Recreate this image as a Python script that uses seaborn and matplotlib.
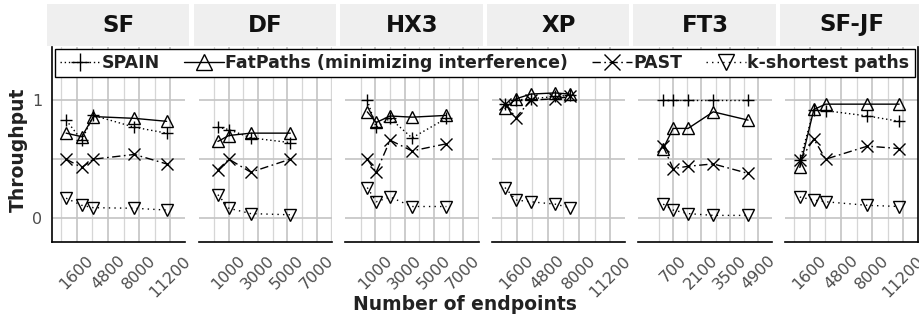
import numpy as np
import pandas as pd
import matplotlib
matplotlib.use("Agg")
import matplotlib.pyplot as plt
import seaborn as sns
from matplotlib.lines import Line2D
from matplotlib.patches import Rectangle
from matplotlib.ticker import FixedLocator

# ---------------- data ----------------
topologies = ["SF", "DF", "HX3", "XP", "FT3", "SF-JF"]
series = ["SPAIN", "FatPaths (minimizing interference)", "PAST", "k-shortest paths"]

sf_x = [500, 2100, 3300, 7500, 10800]
sf_spain = [0.83, 0.66, 0.87, 0.77, 0.72]
sf_fatpaths = [0.72, 0.69, 0.86, 0.845, 0.82]
sf_past = [0.50, 0.43, 0.50, 0.54, 0.46]
sf_ksp = [0.17, 0.11, 0.09, 0.085, 0.07]

df_x = [250, 1000, 2500, 5200]
df_spain = [0.77, 0.75, 0.68, 0.64]
df_fatpaths = [0.65, 0.70, 0.72, 0.72]
df_past = [0.41, 0.50, 0.39, 0.50]
df_ksp = [0.20, 0.085, 0.04, 0.03]

hx3_x = [440, 1050, 2000, 3500, 5850]
hx3_spain = [1.00, 0.77, 0.845, 0.68, 0.845]
hx3_fatpaths = [0.90, 0.81, 0.865, 0.855, 0.87]
hx3_past = [0.50, 0.39, 0.66, 0.57, 0.63]
hx3_ksp = [0.26, 0.14, 0.18, 0.10, 0.10]

xp_x = [400, 1530, 3040, 5540, 7080]
xp_spain = [0.97, 1.00, 1.01, 1.03, 1.04]
xp_fatpaths = [0.93, 1.01, 1.05, 1.06, 1.05]
xp_past = [0.97, 0.85, 1.00, 1.01, 1.03]
xp_ksp = [0.26, 0.155, 0.14, 0.12, 0.09]

ft3_x = [210, 700, 1440, 2680, 4400]
ft3_spain = [1.00, 1.00, 1.00, 1.00, 1.00]
ft3_fatpaths = [0.59, 0.76, 0.76, 0.90, 0.83]
ft3_past = [0.61, 0.42, 0.44, 0.46, 0.38]
ft3_ksp = [0.12, 0.07, 0.04, 0.025, 0.025]

sfjf_x = [570, 2010, 3220, 7500, 10760]
sfjf_spain = [0.49, 0.915, 0.91, 0.865, 0.82]
sfjf_fatpaths = [0.43, 0.92, 0.965, 0.965, 0.965]
sfjf_past = [0.49, 0.67, 0.50, 0.61, 0.59]
sfjf_ksp = [0.18, 0.155, 0.14, 0.11, 0.10]

panel_x = [sf_x, df_x, hx3_x, xp_x, ft3_x, sfjf_x]
panel_y = [
    [sf_spain, sf_fatpaths, sf_past, sf_ksp],
    [df_spain, df_fatpaths, df_past, df_ksp],
    [hx3_spain, hx3_fatpaths, hx3_past, hx3_ksp],
    [xp_spain, xp_fatpaths, xp_past, xp_ksp],
    [ft3_spain, ft3_fatpaths, ft3_past, ft3_ksp],
    [sfjf_spain, sfjf_fatpaths, sfjf_past, sfjf_ksp],
]

x_major = [
    [1600, 4800, 8000, 11200],
    [1000, 3000, 5000, 7000],
    [1000, 3000, 5000, 7000],
    [1600, 4800, 8000, 11200],
    [700, 2100, 3500, 4900],
    [1600, 4800, 8000, 11200],
]
x_minor = [
    [0, 3200, 6400, 9600],
    [0, 2000, 4000, 6000, 8000],
    [0, 2000, 4000, 6000, 8000],
    [0, 3200, 6400, 9600],
    [0, 1400, 2800, 4200],
    [0, 3200, 6400, 9600],
]
x_limits = [
    (-950, 12740), (-1070, 8060), (-1070, 8060),
    (-950, 12740), (-1015, 5577), (-950, 12740),
]
y_ticks = [0, 0.5, 1]
y_ticklabels = ["0", "", "1"]

rows = []
for t, xs, ys in zip(topologies, panel_x, panel_y):
    for s, vals in zip(series, ys):
        for xv, yv in zip(xs, vals):
            rows.append((t, s, xv, yv))
data = pd.DataFrame(rows, columns=["topology", "scheme", "endpoints", "throughput"])

# ---------------- style ----------------
sns.set_style("white")
plt.rcParams["font.family"] = ["DejaVu Sans"]

styles = {
    "SPAIN": dict(marker="+", linestyle=(0, (1, 2)), markersize=8.5),
    "FatPaths (minimizing interference)": dict(marker="^", linestyle="-", markersize=8),
    "PAST": dict(marker="x", linestyle=(0, (6, 2.5, 1.2, 2.5)), markersize=8),
    "k-shortest paths": dict(marker="v", linestyle=(0, (1, 3)), markersize=8),
}

W, H = 920, 323
fig = plt.figure(figsize=(W / 100, H / 100), dpi=100)

left0, period, pw = 52, 146.6, 133.5
top_px, bot_px = 47, 242
grid_major = "#C4C4C4"
grid_minor = "#D6D6D6"
tick_col = "#4D4D4D"

axes = []
for i, t in enumerate(topologies):
    lx = left0 + i * period
    ax = fig.add_axes([lx / W, 1 - bot_px / H, pw / W, (bot_px - top_px) / H])
    axes.append(ax)
    sub = data[data["topology"] == t]
    for s in series:
        d = sub[sub["scheme"] == s]
        st = styles[s]
        sns.lineplot(data=d, x="endpoints", y="throughput", ax=ax, color="black",
                     linewidth=1.0, marker=st["marker"], linestyle=st["linestyle"],
                     markersize=st["markersize"], markerfacecolor="none",
                     markeredgecolor="black", markeredgewidth=1.0,
                     estimator=None, sort=False, legend=False)
    ax.set_xlim(*x_limits[i])
    ax.set_ylim(-0.2, 1.448)
    ax.xaxis.set_major_locator(FixedLocator(x_major[i]))
    ax.xaxis.set_minor_locator(FixedLocator(x_minor[i]))
    ax.set_xticklabels([str(v) for v in x_major[i]], rotation=45, ha="center",
                       va="top", fontsize=11.5, color=tick_col)
    ax.yaxis.set_major_locator(FixedLocator(y_ticks))
    ax.set_axisbelow(True)
    ax.grid(True, which="major", axis="both", color=grid_major, linewidth=1.2)
    ax.grid(True, which="minor", axis="x", color=grid_minor, linewidth=0.9)
    ax.set_xlabel("")
    ax.set_ylabel("")
    for sp in ["top", "right", "left", "bottom"]:
        ax.spines[sp].set_visible(False)
    ax.spines["bottom"].set_visible(True)
    ax.spines["bottom"].set_color("black")
    ax.spines["bottom"].set_linewidth(1.2)
    ax.tick_params(axis="x", which="major", length=4, width=1, color="black", pad=4)
    ax.tick_params(axis="x", which="minor", length=0)
    if i == 0:
        ax.spines["left"].set_visible(True)
        ax.spines["left"].set_color("black")
        ax.spines["left"].set_linewidth(1.2)
        ax.set_yticklabels(y_ticklabels, fontsize=11.5, color=tick_col)
        ax.tick_params(axis="y", length=4, width=1, color="black", pad=3)
    else:
        ax.tick_params(axis="y", length=0, labelleft=False)
    if i == len(topologies) - 1:
        ax.spines["right"].set_visible(True)
        ax.spines["right"].set_color("black")
        ax.spines["right"].set_linewidth(1.2)

    # facet strip
    fig.patches.append(Rectangle(((lx - 5) / W, 1 - 46 / H), (pw + 9) / W, 42 / H,
                                 transform=fig.transFigure, facecolor="#EFEFEF",
                                 edgecolor="none", zorder=0))
    fig.text((lx + pw / 2) / W, 1 - 25 / H, t, ha="center", va="center",
             fontsize=16.5, fontweight="bold", color="#111111")

fig.text(465 / W, 1 - 304 / H, "Number of endpoints", ha="center", va="center",
         fontsize=13.5, fontweight="bold", color="#222222")
fig.text(18 / W, 1 - 150 / H, "Throughput", ha="center", va="center", rotation=90,
         fontsize=13.5, fontweight="bold", color="#222222")

handles = []
for s in series:
    st = styles[s]
    handles.append(Line2D([], [], color="black", linewidth=1.0, marker=st["marker"],
                          linestyle=st["linestyle"], markersize=st["markersize"] + 4,
                          markerfacecolor="none", markeredgecolor="black",
                          markeredgewidth=1.0))
leg = fig.legend(handles, series, ncol=4, loc="upper center",
                 bbox_to_anchor=(485 / W, 1 - 49 / H), frameon=True, fancybox=False,
                 edgecolor="black", framealpha=1.0, borderpad=0.3,
                 handlelength=2.3, handletextpad=0.1, columnspacing=1.35,
                 borderaxespad=0, prop=dict(weight="bold", size=12.5))
leg.get_frame().set_linewidth(1.0)
for txt in leg.get_texts():
    txt.set_color("#222222")

fig.savefig("out.png", dpi=100)
